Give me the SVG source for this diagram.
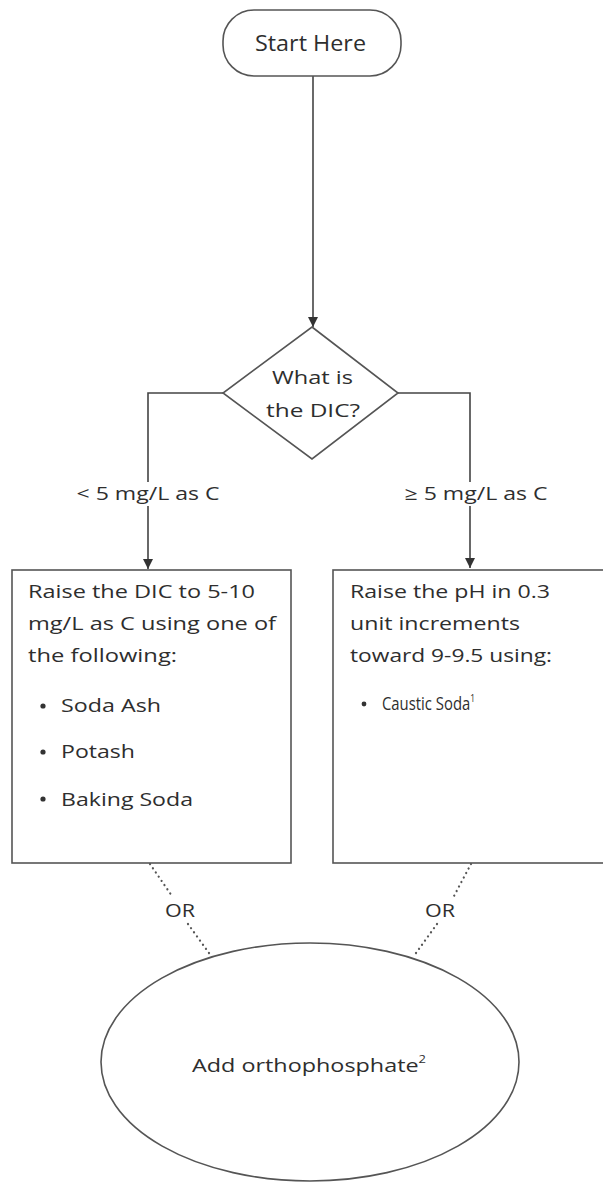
<svg xmlns="http://www.w3.org/2000/svg" width="603" height="1188" viewBox="0 0 603 1188">
<style>
  .node{fill:#fff;stroke:#555;stroke-width:1.6}
  .t{font-family:"Open Sans","Liberation Sans",sans-serif;font-size:18px;fill:#2e2e2e}
  .conn{fill:none;stroke:#444;stroke-width:1.6}
  .dot{fill:none;stroke:#555;stroke-width:2.2;stroke-dasharray:0.1 5;stroke-linecap:round}
  .sup{font-size:10px}
  .bg{fill:#fff}
</style>
<defs>
  <marker id="arr" viewBox="0 0 10 10" refX="10" refY="5" markerWidth="10" markerHeight="10" markerUnits="userSpaceOnUse" orient="auto">
    <path d="M0,0 L10,5 L0,10 z" fill="#333"/>
  </marker>
</defs>
<rect width="603" height="1188" fill="#fff"/>
<g id="connectors">
  <line class="conn" x1="313" y1="76" x2="313" y2="327" marker-end="url(#arr)"/>
  <polyline class="conn" points="223,393 148,393 148,569" marker-end="url(#arr)"/>
  <polyline class="conn" points="398,393 470,393 470,568" marker-end="url(#arr)"/>
  <line class="dot" x1="150" y1="864" x2="172" y2="896"/>
  <line class="dot" x1="188" y1="924" x2="209" y2="953"/>
  <line class="dot" x1="471" y1="864" x2="454" y2="896"/>
  <line class="dot" x1="437" y1="924" x2="416" y2="953"/>
  <rect class="bg" x="70" y="482" width="148" height="24"/>
  <rect class="bg" x="402" y="482" width="149" height="24"/>
  <text class="t" x="148" y="500" textLength="143" lengthAdjust="spacingAndGlyphs" text-anchor="middle">&lt; 5 mg/L as C</text>
  <text class="t" x="476" y="500" textLength="143" lengthAdjust="spacingAndGlyphs" text-anchor="middle">≥ 5 mg/L as C</text>
  <text class="t" x="165" y="917" textLength="30" lengthAdjust="spacingAndGlyphs">OR</text>
  <text class="t" x="425" y="917" textLength="30" lengthAdjust="spacingAndGlyphs">OR</text>
</g>
<g id="start">
  <rect class="node" x="223" y="10" width="178" height="66" rx="31" ry="31"/>
  <text class="t" x="255" y="51" style="font-size:21px" textLength="111" lengthAdjust="spacingAndGlyphs">Start Here</text>
</g>
<g id="decision">
  <polygon class="node" points="312,327 398,393 312,459 223,393"/>
  <text class="t" x="272" y="384" style="font-size:19px" textLength="81" lengthAdjust="spacingAndGlyphs">What is</text>
  <text class="t" x="266" y="417" style="font-size:19px" textLength="94" lengthAdjust="spacingAndGlyphs">the DIC?</text>
</g>
<g id="raiseDIC">
  <rect class="node" x="12" y="570" width="279" height="293"/>
  <text class="t" x="28" y="598" textLength="227" lengthAdjust="spacingAndGlyphs">Raise the DIC to 5-10</text>
  <text class="t" x="28" y="630" textLength="248" lengthAdjust="spacingAndGlyphs">mg/L as C using one of</text>
  <text class="t" x="28" y="662" textLength="149" lengthAdjust="spacingAndGlyphs">the following:</text>
  <circle cx="43" cy="706" r="2.6" fill="#333"/>
  <text class="t" x="61" y="712" textLength="100" lengthAdjust="spacingAndGlyphs">Soda Ash</text>
  <circle cx="43" cy="752" r="2.6" fill="#333"/>
  <text class="t" x="61" y="758" textLength="74" lengthAdjust="spacingAndGlyphs">Potash</text>
  <circle cx="43" cy="799" r="2.6" fill="#333"/>
  <text class="t" x="61" y="806" textLength="132" lengthAdjust="spacingAndGlyphs">Baking Soda</text>
</g>
<g id="raisePH">
  <rect class="node" x="333" y="570" width="290" height="293"/>
  <text class="t" x="350" y="598" textLength="200" lengthAdjust="spacingAndGlyphs">Raise the pH in 0.3</text>
  <text class="t" x="350" y="630" textLength="170" lengthAdjust="spacingAndGlyphs">unit increments</text>
  <text class="t" x="350" y="662" textLength="202" lengthAdjust="spacingAndGlyphs">toward 9-9.5 using:</text>
  <circle cx="364" cy="704" r="2.4" fill="#333"/>
  <text class="t" x="382" y="710" textLength="93" lengthAdjust="spacingAndGlyphs">Caustic Soda<tspan class="sup" dy="-8">1</tspan></text>
</g>
<g id="ortho">
  <ellipse class="node" cx="310" cy="1062" rx="209" ry="119"/>
  <text class="t" x="192" y="1072" textLength="234" lengthAdjust="spacingAndGlyphs">Add orthophosphate<tspan class="sup" dy="-9">2</tspan></text>
</g>
</svg>
